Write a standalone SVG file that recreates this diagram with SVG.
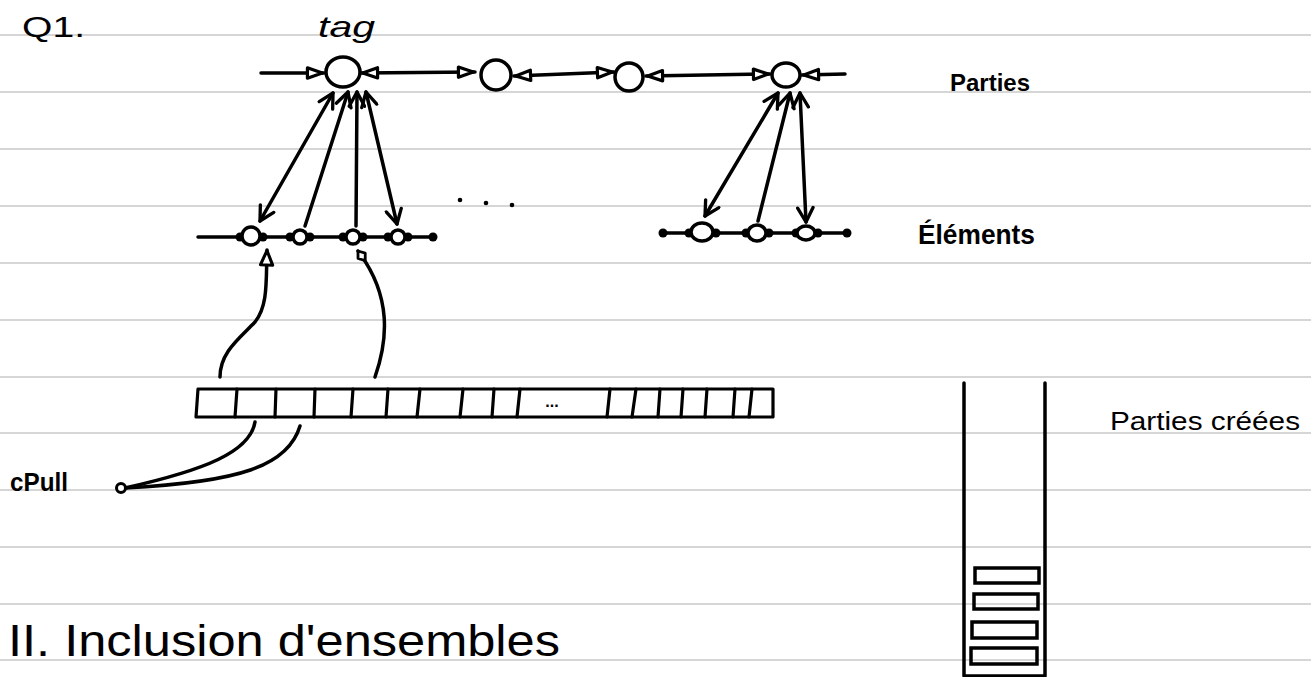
<svg xmlns="http://www.w3.org/2000/svg" width="1311" height="677" viewBox="0 0 1311 677">
<style>
.rule{stroke:#d6d6d6;stroke-width:2}
.ink{fill:none;stroke:#000;stroke-width:3.5;stroke-linecap:round;stroke-linejoin:round}
.node{fill:#fff;stroke:#000;stroke-width:3.5}
.hand{font-family:"Liberation Sans","DejaVu Sans",sans-serif;fill:#000}
.b{font-weight:bold}
.cell{fill:none;stroke:#000;stroke-width:3.2;stroke-linecap:round}
.box{fill:none;stroke:#000;stroke-width:3.5}
</style>
<defs>
<marker id="tri" viewBox="0 0 18 14" refX="17" refY="7" markerWidth="21" markerHeight="16" markerUnits="userSpaceOnUse" orient="auto-start-reverse">
<path d="M2.5,2.5 L15.5,7 L2.5,11.5 Z" fill="#fff" stroke="#000" stroke-width="2.8" stroke-linejoin="round"/>
</marker>
<marker id="dot" viewBox="0 0 10 10" refX="5" refY="5" markerWidth="10" markerHeight="10" markerUnits="userSpaceOnUse" orient="auto-start-reverse">
<circle cx="5" cy="5" r="4.5" fill="#000"/>
</marker>
<marker id="vee" viewBox="0 0 16 16" refX="14" refY="8" markerWidth="19" markerHeight="19" markerUnits="userSpaceOnUse" orient="auto-start-reverse">
<path d="M2,1.5 L14,8 L2,14.5" fill="none" stroke="#000" stroke-width="2.8" stroke-linecap="round" stroke-linejoin="round"/>
</marker>
<marker id="opentri" viewBox="0 0 18 16" refX="16" refY="8" markerWidth="20" markerHeight="18" markerUnits="userSpaceOnUse" orient="auto">
<path d="M2.5,2.5 L15.5,8 L2.5,13.5 Z" fill="#fff" stroke="#000" stroke-width="2.8" stroke-linejoin="round"/>
</marker>
<marker id="diam" viewBox="0 0 16 14" refX="14" refY="7" markerWidth="16" markerHeight="14" markerUnits="userSpaceOnUse" orient="auto">
<path d="M2,7 L8,2.5 L14,7 L8,11.5 Z" fill="#fff" stroke="#000" stroke-width="2.8" stroke-linejoin="round"/>
</marker>
</defs>
<rect width="1311" height="677" fill="#fff"/>
<g id="ruling">
<line class="rule" x1="0" y1="35" x2="1311" y2="35"/>
<line class="rule" x1="0" y1="92" x2="1311" y2="92"/>
<line class="rule" x1="0" y1="149" x2="1311" y2="149"/>
<line class="rule" x1="0" y1="206" x2="1311" y2="206"/>
<line class="rule" x1="0" y1="263" x2="1311" y2="263"/>
<line class="rule" x1="0" y1="320" x2="1311" y2="320"/>
<line class="rule" x1="0" y1="377" x2="1311" y2="377"/>
<line class="rule" x1="0" y1="433" x2="1311" y2="433"/>
<line class="rule" x1="0" y1="490" x2="1311" y2="490"/>
<line class="rule" x1="0" y1="547" x2="1311" y2="547"/>
<line class="rule" x1="0" y1="604" x2="1311" y2="604"/>
<line class="rule" x1="0" y1="660" x2="1311" y2="660"/>
</g>
<g id="labels">
<text class="hand" x="22" y="37" font-size="30" textLength="63" lengthAdjust="spacingAndGlyphs">Q1.</text>
<text class="hand" x="318" y="37" font-size="30" font-style="italic" textLength="57" lengthAdjust="spacingAndGlyphs">tag</text>
<text class="hand b" x="950" y="91" font-size="24" textLength="80" lengthAdjust="spacingAndGlyphs">Parties</text>
<text class="hand b" x="918" y="244" font-size="27" textLength="117" lengthAdjust="spacingAndGlyphs">Éléments</text>
<text class="hand" x="1110" y="430" font-size="26" textLength="190" lengthAdjust="spacingAndGlyphs">Parties créées</text>
<text class="hand b" x="10" y="491" font-size="26" textLength="58" lengthAdjust="spacingAndGlyphs">cPull</text>
<text class="hand" x="8" y="656" font-size="44" textLength="552" lengthAdjust="spacingAndGlyphs">II. Inclusion d'ensembles</text>
</g>
<g id="connectors">
<line class="ink" x1="261" y1="73" x2="324" y2="73" marker-end="url(#tri)"/>
<line class="ink" x1="361" y1="73" x2="475" y2="72" marker-start="url(#tri)" marker-end="url(#tri)"/>
<line class="ink" x1="514" y1="76" x2="614" y2="72" marker-start="url(#tri)" marker-end="url(#tri)"/>
<line class="ink" x1="646" y1="76" x2="770" y2="74" marker-start="url(#tri)" marker-end="url(#tri)"/>
<line class="ink" x1="802" y1="75" x2="845" y2="74" marker-start="url(#tri)"/>
<line class="ink" x1="198" y1="237" x2="240" y2="237" marker-end="url(#dot)"/>
<line class="ink" x1="263" y1="237" x2="290" y2="237" marker-start="url(#dot)" marker-end="url(#dot)"/>
<line class="ink" x1="310" y1="237" x2="343" y2="237" marker-start="url(#dot)" marker-end="url(#dot)"/>
<line class="ink" x1="363" y1="237" x2="388" y2="237" marker-start="url(#dot)" marker-end="url(#dot)"/>
<line class="ink" x1="408" y1="237" x2="433" y2="237" marker-start="url(#dot)" marker-end="url(#dot)"/>
<line class="ink" x1="663" y1="233" x2="689" y2="233" marker-start="url(#dot)" marker-end="url(#dot)"/>
<line class="ink" x1="716" y1="233" x2="746" y2="233" marker-start="url(#dot)" marker-end="url(#dot)"/>
<line class="ink" x1="769" y1="233" x2="796" y2="233" marker-start="url(#dot)" marker-end="url(#dot)"/>
<line class="ink" x1="818" y1="233" x2="847" y2="233" marker-start="url(#dot)" marker-end="url(#dot)"/>
<line class="ink" x1="333" y1="93" x2="260" y2="221" marker-start="url(#vee)" marker-end="url(#vee)"/>
<line class="ink" x1="305" y1="226" x2="348" y2="92" marker-end="url(#vee)"/>
<line class="ink" x1="356" y1="226" x2="357" y2="92" marker-end="url(#vee)"/>
<line class="ink" x1="366" y1="92" x2="397" y2="224" marker-start="url(#vee)" marker-end="url(#vee)"/>
<line class="ink" x1="778" y1="93" x2="705" y2="216" marker-start="url(#vee)" marker-end="url(#vee)"/>
<line class="ink" x1="758" y1="221" x2="790" y2="93" marker-end="url(#vee)"/>
<line class="ink" x1="800" y1="93" x2="806" y2="222" marker-start="url(#vee)" marker-end="url(#vee)"/>
<path class="ink" d="M220,377 C220,352 240,338 255,322 C268,306 266,282 267,250" marker-end="url(#opentri)"/>
<path class="ink" d="M375,377 C388,340 392,296 358,251" marker-end="url(#diam)"/>
<path class="ink" d="M255,422 C250,452 205,470 125,488"/>
<path class="ink" d="M300,426 C288,466 240,482 125,488"/>
</g>
<g id="parties-nodes">
<ellipse id="p1" class="node" cx="343" cy="72" rx="17" ry="15"/>
<ellipse id="p2" class="node" cx="496" cy="75" rx="15" ry="15"/>
<ellipse id="p3" class="node" cx="629" cy="77" rx="14" ry="14"/>
<ellipse id="p4" class="node" cx="786" cy="75" rx="14" ry="12"/>
</g>
<g id="elements-nodes">
<ellipse id="e1" class="node" cx="251" cy="236" rx="9" ry="9"/>
<ellipse id="e2" class="node" cx="300" cy="237" rx="7" ry="7"/>
<ellipse id="e3" class="node" cx="353" cy="237" rx="7" ry="7"/>
<ellipse id="e4" class="node" cx="398" cy="237" rx="7" ry="7"/>
<ellipse id="e5" class="node" cx="702" cy="232" rx="11" ry="9"/>
<ellipse id="e6" class="node" cx="757" cy="233" rx="9" ry="8"/>
<ellipse id="e7" class="node" cx="806" cy="233" rx="9" ry="7"/>
</g>
<g id="ellipsis">
<circle cx="460" cy="200" r="2.3" fill="#000"/>
<circle cx="486" cy="203" r="2.3" fill="#000"/>
<circle cx="512" cy="205" r="2.3" fill="#000"/>
</g>
<g id="cpull-node">
<circle cx="121" cy="488" r="4.5" fill="#fff" stroke="#000" stroke-width="3"/>
</g>
<g id="array">
<path class="cell" d="M198,389 L773,389 L773,417 L196,417 Z" stroke-linejoin="round"/>
<path class="cell" d="M237,389 L235,417 M276,389 L275,417 M315,389 L314,417 M353,389 L351,417 M388,389 L386,417 M420,389 L417,417 M463,389 L460,417 M494,389 L492,417 M520,389 L517,417 M610,389 L607,417 M636,389 L632,417 M660,389 L658,417 M683,389 L681,417 M707,389 L705,417 M735,389 L733,417 M752,389 L749,417"/>
<text class="hand b" x="552" y="407" font-size="16" text-anchor="middle">...</text>
</g>
<g id="stack">
<path class="ink" d="M964,383 L964,676 L1045,676 L1045,383"/>
<rect class="box" x="975" y="568" width="64" height="15"/>
<rect class="box" x="974" y="594" width="64" height="15"/>
<rect class="box" x="972" y="622" width="65" height="16"/>
<rect class="box" x="971" y="648" width="66" height="16"/>
</g>
</svg>
